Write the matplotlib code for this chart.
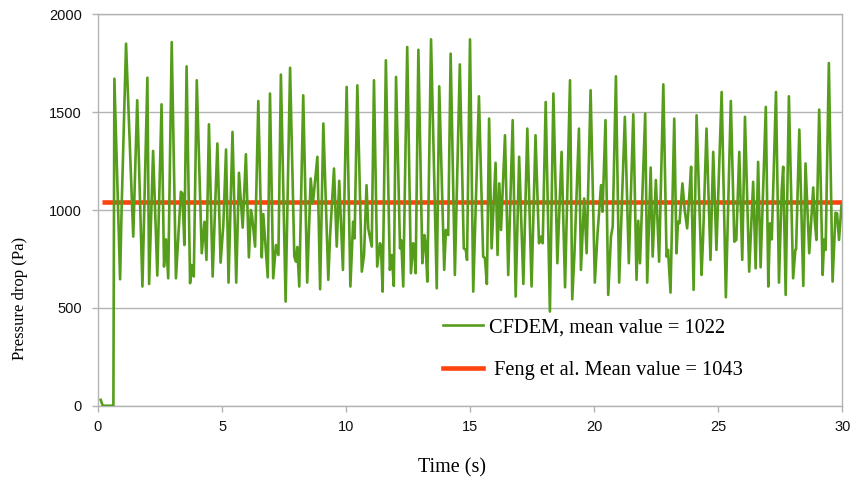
import matplotlib.pyplot as plt
from matplotlib.lines import Line2D

# Simulated pressure drop over time (CFDEM run)
time_s = [
    0.11, 0.19, 0.62, 0.66, 0.89, 0.95, 1.13, 1.42, 1.58, 1.79, 1.99, 2.06, 2.22, 2.39,
    2.56, 2.66, 2.74, 2.83, 2.97, 3.14, 3.34, 3.40, 3.48, 3.57, 3.71, 3.77, 3.86, 3.98,
    4.18, 4.29, 4.37, 4.47, 4.62, 4.81, 4.94, 5.05, 5.16, 5.26, 5.42, 5.57, 5.68, 5.83,
    5.96, 6.08, 6.16, 6.21, 6.33, 6.46, 6.60, 6.66, 6.84, 6.93, 7.06, 7.17, 7.27, 7.37,
    7.56, 7.74, 7.91, 7.98, 8.03, 8.11, 8.27, 8.43, 8.57, 8.66, 8.84, 8.95, 9.08, 9.28,
    9.35, 9.51, 9.62, 9.72, 9.87, 10.02, 10.17, 10.28, 10.34, 10.45, 10.63, 10.72, 10.82,
    10.89, 11.03, 11.12, 11.25, 11.36, 11.40, 11.47, 11.60, 11.76, 11.84, 11.92, 12.01,
    12.17, 12.22, 12.30, 12.46, 12.61, 12.70, 12.74, 12.80, 12.91, 13.07, 13.15, 13.20,
    13.27, 13.42, 13.65, 13.75, 13.95, 14.02, 14.11, 14.21, 14.38, 14.58, 14.74, 14.82,
    14.87, 14.99, 15.12, 15.35, 15.52, 15.59, 15.67, 15.76, 15.86, 16.02, 16.10, 16.17,
    16.24, 16.40, 16.53, 16.71, 16.83, 16.97, 17.14, 17.30, 17.47, 17.63, 17.77, 17.85,
    17.92, 18.04, 18.21, 18.35, 18.51, 18.68, 18.82, 19.02, 19.11, 19.20, 19.38, 19.46,
    19.59, 19.69, 19.85, 20.02, 20.13, 20.27, 20.33, 20.45, 20.56, 20.67, 20.74, 20.87,
    21.00, 21.23, 21.39, 21.57, 21.70, 21.77, 21.84, 22.05, 22.13, 22.27, 22.35, 22.48,
    22.61, 22.78, 22.91, 22.97, 23.07, 23.22, 23.31, 23.37, 23.43, 23.55, 23.64, 23.74,
    23.82, 23.90, 24.00, 24.12, 24.32, 24.38, 24.52, 24.68, 24.79, 24.92, 25.13, 25.30,
    25.50, 25.64, 25.72, 25.84, 25.96, 26.07, 26.24, 26.40, 26.50, 26.60, 26.70, 26.91,
    27.01, 27.08, 27.15, 27.32, 27.44, 27.55, 27.61, 27.71, 27.84, 28.01, 28.10, 28.13,
    28.26, 28.42, 28.51, 28.66, 28.82, 28.88, 28.95, 29.06, 29.20, 29.26, 29.32, 29.45,
    29.60, 29.72, 29.78, 29.86, 29.96,
]
pressure_pa = [
    30, 0, 0, 1671, 646, 1000, 1850, 864, 1561, 609, 1676, 622, 1302, 665,
    1540, 711, 850, 651, 1858, 651, 1093, 1085, 821, 1734, 626, 719, 660, 1663,
    779, 940, 745, 1438, 660, 1340, 731, 923, 1309, 629, 1399, 629, 1190, 910,
    1285, 758, 1000, 966, 813, 1557, 758, 979, 656, 1595, 651, 821, 770, 1692,
    532, 1727, 762, 736, 811, 609, 1586, 629, 1161, 1034, 1272, 595, 1442, 643,
    864, 1212, 813, 1149, 694, 1629, 609, 940, 855, 1637, 685, 770, 1127,
    906, 813, 1663, 711, 830, 820, 583, 1765, 694, 770, 612, 1680,
    804, 846, 609, 1833, 677, 830, 804, 677, 1819, 728, 872, 830,
    634, 1872, 600, 1632, 694, 898, 872, 1799, 668, 1744, 804, 796,
    745, 1872, 583, 1581, 762, 755, 622, 1467, 804, 1241, 770, 1136,
    898, 1382, 668, 1459, 558, 1272, 622, 1416, 609, 1382, 830, 864,
    830, 1552, 481, 1595, 728, 1297, 605, 1663, 544, 780, 1416, 694,
    1059, 779, 1612, 629, 881, 1127, 991, 1459, 566, 864, 915, 1683,
    629, 1476, 728, 1489, 643, 945, 728, 1493, 629, 1217, 762, 1153,
    736, 1642, 762, 796, 578, 1467, 779, 940, 932, 1136, 1000, 906,
    1059, 1221, 592, 1484, 668, 850, 1416, 745, 1297, 796, 1603, 554,
    1557, 838, 847, 1297, 745, 1476, 685, 1144, 702, 1246, 707, 1527,
    609, 932, 850, 1603, 629, 1102, 1221, 566, 1581, 651, 796, 800,
    1411, 612, 1238, 779, 1115, 950, 847, 1513, 668, 850, 796, 1751,
    634, 986, 983, 847, 1025,
]

# Reference value from Feng et al.
ref_time = [0.15, 30.0]
ref_pressure = [1043, 1043]

cfdem_label = "CFDEM, mean value = 1022"
ref_label = " Feng et al. Mean value = 1043"

x_ticks = [0, 5, 10, 15, 20, 25, 30]
y_ticks = [0, 500, 1000, 1500, 2000]

GREEN = "#579d1c"
ORANGE = "#ff420e"
GRID = "#b3b3b3"
SERIF = "Liberation Serif"
SANS = "Liberation Sans"

fig = plt.figure(figsize=(8.54, 4.83), dpi=100)
W, H = 854, 483
ax = fig.add_axes([98 / W, 1 - 405.7 / H, 744.5 / W, 391.4 / H])

ax.plot(ref_time, ref_pressure, color=ORANGE, lw=3.3, solid_capstyle="butt", zorder=2)
ax.plot(time_s, pressure_pa, color=GREEN, lw=1.9, solid_joinstyle="round", zorder=3)

ax.set_xlim(0, 30)
ax.set_ylim(0, 2000)
ax.set_xticks(x_ticks)
ax.set_yticks(y_ticks)
ax.grid(axis="y", color=GRID, lw=1.0, zorder=0)
ax.set_axisbelow(True)
for s in ax.spines.values():
    s.set_color(GRID)
    s.set_linewidth(1.0)
ax.tick_params(axis="both", color=GRID, length=4, width=1.0, direction="out",
               labelsize=10.5, labelcolor="#111111")
ax.tick_params(axis="y", pad=7.5)
ax.tick_params(axis="x", pad=6)
for lbl in ax.get_xticklabels() + ax.get_yticklabels():
    lbl.set_family(SANS)

fig.text(452 / W, 1 - 468 / H, "Time (s)", ha="center", va="center",
         fontsize=14.5, family=SERIF)
fig.text(20 / W, 1 - 298 / H, "Pressure drop (Pa)", ha="center", va="center",
         rotation=90, fontsize=12, family=SERIF)

handles = [Line2D([], [], color=GREEN, lw=1.9), Line2D([], [], color=ORANGE, lw=3.3)]
leg = ax.legend(handles, [cfdem_label, ref_label], loc="center left",
                bbox_to_anchor=(443 / W, 1 - 349 / H), bbox_transform=fig.transFigure,
                frameon=False, borderpad=0, borderaxespad=0, handlelength=1.96,
                handletextpad=0.3, labelspacing=1.15,
                prop={"family": SERIF, "size": 14.7})

fig.savefig("out.png", dpi=100)
